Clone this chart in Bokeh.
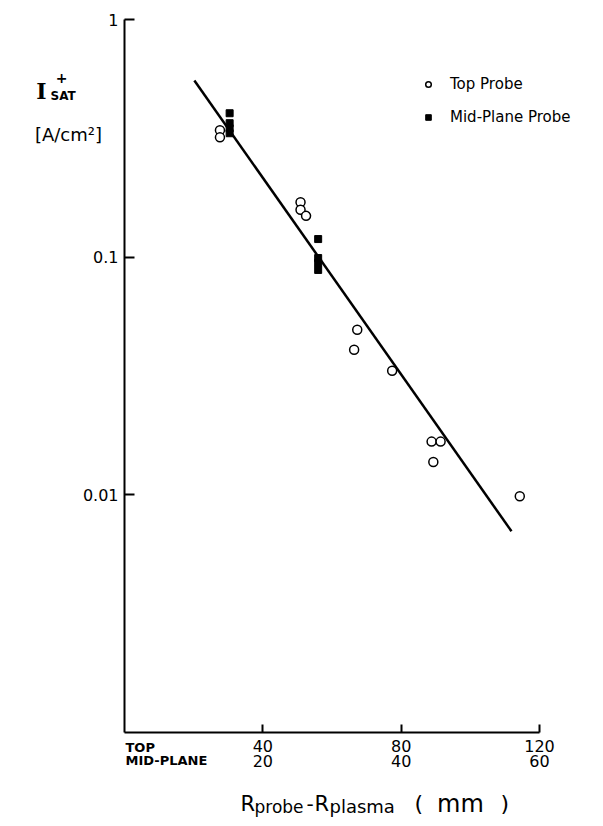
from bokeh.plotting import figure
from bokeh.models import (FixedTicker, LinearAxis, Range1d, Label, Legend, LegendItem,
                          CustomJSTickFormatter)
from bokeh.embed import file_html
from bokeh.resources import INLINE

# ---- data ----
# Top probe: R_probe - R_plasma (mm, TOP scale) and I_sat+ (A/cm^2)
top_x = [27.6, 27.6, 50.9, 50.9, 52.5, 67.3, 66.4, 77.4, 88.8, 91.4, 89.3, 114.3]
top_y = [0.342, 0.319, 0.170, 0.158, 0.149, 0.0494, 0.0407, 0.0332, 0.0167, 0.0167, 0.0137, 0.00984]

# Mid-plane probe: R_probe - R_plasma (mm, MID-PLANE scale)
mid_x = [15.2, 15.2, 15.2, 15.2, 28.0, 28.0, 28.0, 28.0]
mid_y = [0.403, 0.366, 0.348, 0.332, 0.119, 0.0990, 0.0944, 0.0882]

# fitted line (TOP scale)
fit_x = [20.2, 111.9]
fit_y = [0.554, 0.0070]

top_ticks = [40, 80, 120]
mid_ticks = [20, 40, 60]
y_ticks = [0.01, 0.1, 1]

FONT = "DejaVu Sans"

# ---- layout: the frame fills the canvas; axes are pinned with fixed_location ----
W, H = 600, 822
AX_L, AX_R = 124, 539      # pixel of x = 0 and x = 120
AX_T, DEC = 19, 237.5      # pixel of y = 1, pixels per decade

def lx(px):
    return (px - AX_L) * 120.0 / (AX_R - AX_L)

def ly(py):
    return 10 ** (-(py - AX_T) / DEC)

p = figure(width=W, height=H, x_range=Range1d(lx(0), lx(W)), y_range=Range1d(ly(H), ly(0)),
           y_axis_type="log", output_backend="svg", toolbar_location=None, title=None,
           min_border=0)
p.extra_x_ranges = {"mid": Range1d(lx(0) / 2, lx(W) / 2)}
p.outline_line_color = None
p.xgrid.visible = False
p.ygrid.visible = False
p.background_fill_color = "white"
p.border_fill_color = "white"

# y axis
ya = p.yaxis[0]
ya.fixed_location = 0
ya.bounds = (0.001, 1)
ya.ticker = FixedTicker(ticks=y_ticks)
ya.formatter = CustomJSTickFormatter(code="return String(tick)")
ya.major_tick_in = 10
ya.major_tick_out = 0
ya.minor_tick_line_color = None
ya.axis_line_width = 2
ya.major_tick_line_width = 2
ya.major_label_text_font = FONT
ya.major_label_text_font_size = "16px"
ya.major_label_text_color = "black"
ya.major_label_standoff = 6

# bottom axes (TOP scale, then MID-PLANE scale)
xa = p.xaxis[0]
xa.fixed_location = 0.001
xa.bounds = (0, 120)
xa.ticker = FixedTicker(ticks=top_ticks)
xa.major_tick_in = 8
xa.major_tick_out = 0
xa.minor_tick_line_color = None
xa.axis_line_width = 2
xa.major_tick_line_width = 2
xa.major_label_text_font = FONT
xa.major_label_text_font_size = "16px"
xa.major_label_text_color = "black"
xa.major_label_standoff = 8

xa2 = LinearAxis(x_range_name="mid", ticker=FixedTicker(ticks=mid_ticks))
xa2.fixed_location = 0.001
xa2.axis_line_color = None
xa2.major_tick_line_color = None
xa2.minor_tick_line_color = None
xa2.major_tick_in = 0
xa2.major_tick_out = 0
xa2.major_label_text_font = FONT
xa2.major_label_text_font_size = "16px"
xa2.major_label_text_color = "black"
xa2.major_label_standoff = 23
p.add_layout(xa2, "below")

# data
p.line(fit_x, fit_y, line_color="black", line_width=2.5)
r_top = p.scatter(top_x, top_y, marker="circle", size=9, fill_color="white",
                  line_color="black", line_width=1.5)
r_mid = p.scatter(mid_x, mid_y, x_range_name="mid", marker="square", size=7,
                  fill_color="black", line_color="black", line_width=1)

legend = Legend(items=[LegendItem(label="Top Probe", renderers=[r_top]),
                       LegendItem(label="Mid-Plane Probe", renderers=[r_mid])],
                location=(421, H - 127))
legend.border_line_alpha = 0
legend.background_fill_alpha = 0
legend.padding = 0
legend.margin = 0
legend.spacing = 13
legend.glyph_width = 14
legend.glyph_height = 20
legend.label_height = 20
legend.label_standoff = 15
legend.label_text_font = FONT
legend.label_text_font_size = "15px"
legend.label_text_color = "black"
p.add_layout(legend)

def lab(text, px, py, size, font=FONT, style="normal", align="left", base="middle"):
    p.add_layout(Label(x=lx(px), y=ly(py), text=text,
                       text_font=font, text_font_size=size, text_font_style=style,
                       text_align=align, text_baseline=base, text_color="black"))

# bottom-row captions
lab("TOP", 125, 747, "13px", style="bold")
lab("MID-PLANE", 125, 760, "13px", style="bold")

# x title  R_probe - R_plasma (mm)
lab("R", 240, 803, "21px")
lab("probe", 254, 806, "17px")
lab("-", 306, 803, "20px")
lab("R", 314, 803, "21px")
lab("plasma", 329, 806, "18px")
lab("(", 414, 803, "22px")
lab("mm", 460, 803, "24px", align="center")
lab(")", 500, 803, "22px")

# y title  I+_SAT [A/cm^2]
lab("I", 41, 90, "22px", font="DejaVu Serif", style="bold", align="center")
lab("+", 61, 77, "14px", style="bold", align="center")
lab("SAT", 50, 95, "12px", style="bold")
lab("[A/cm²]", 68, 134, "18px", align="center")

open("out.html", "w").write(file_html(p, INLINE))
